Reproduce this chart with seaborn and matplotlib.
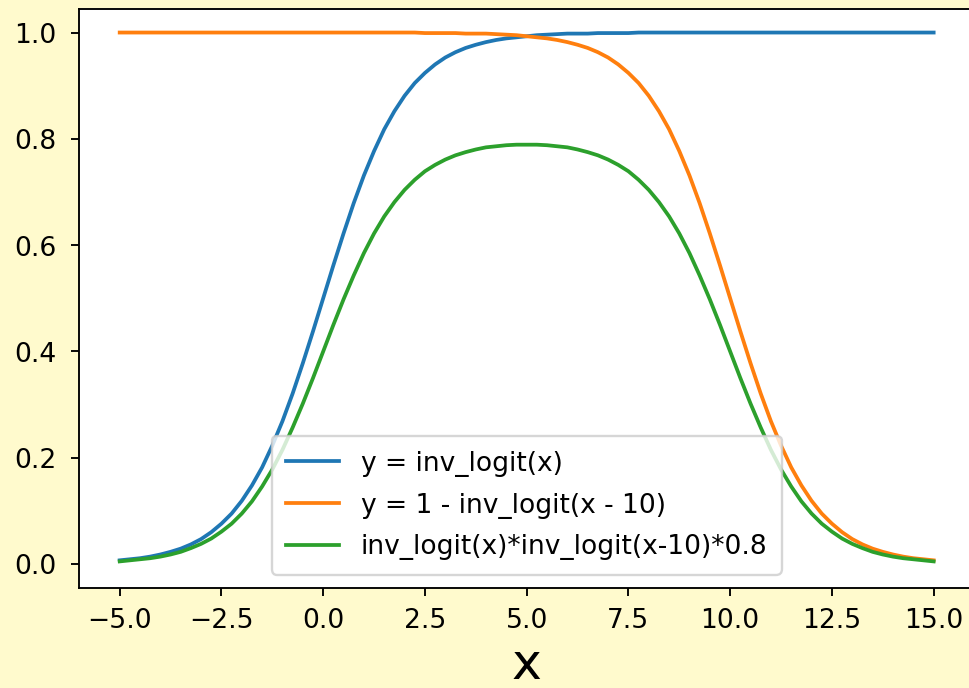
import matplotlib
matplotlib.use("Agg")
import matplotlib.pyplot as plt
import seaborn as sns
import pandas as pd

# x grid (step 0.25) and curve values
x_vals = [-5.00, -4.75, -4.50, -4.25, -4.00, -3.75, -3.50, -3.25, -3.00, -2.75,
          -2.50, -2.25, -2.00, -1.75, -1.50, -1.25, -1.00, -0.75, -0.50, -0.25,
          0.00, 0.25, 0.50, 0.75, 1.00, 1.25, 1.50, 1.75, 2.00, 2.25,
          2.50, 2.75, 3.00, 3.25, 3.50, 3.75, 4.00, 4.25, 4.50, 4.75,
          5.00, 5.25, 5.50, 5.75, 6.00, 6.25, 6.50, 6.75, 7.00, 7.25,
          7.50, 7.75, 8.00, 8.25, 8.50, 8.75, 9.00, 9.25, 9.50, 9.75,
          10.00, 10.25, 10.50, 10.75, 11.00, 11.25, 11.50, 11.75, 12.00, 12.25,
          12.50, 12.75, 13.00, 13.25, 13.50, 13.75, 14.00, 14.25, 14.50, 14.75,
          15.00]

inv_logit_x = [0.007, 0.009, 0.011, 0.014, 0.018, 0.023, 0.029, 0.037, 0.047, 0.060,
               0.076, 0.095, 0.119, 0.148, 0.182, 0.223, 0.269, 0.321, 0.378, 0.438,
               0.500, 0.562, 0.622, 0.679, 0.731, 0.777, 0.818, 0.852, 0.881, 0.905,
               0.924, 0.940, 0.953, 0.963, 0.971, 0.977, 0.982, 0.986, 0.989, 0.991,
               0.993, 0.995, 0.996, 0.997, 0.998, 0.998, 0.998, 0.999, 0.999, 0.999,
               0.999, 1.000, 1.000, 1.000, 1.000, 1.000, 1.000, 1.000, 1.000, 1.000,
               1.000, 1.000, 1.000, 1.000, 1.000, 1.000, 1.000, 1.000, 1.000, 1.000,
               1.000, 1.000, 1.000, 1.000, 1.000, 1.000, 1.000, 1.000, 1.000, 1.000,
               1.000]

one_minus_shifted = [1.000, 1.000, 1.000, 1.000, 1.000, 1.000, 1.000, 1.000, 1.000, 1.000,
                     1.000, 1.000, 1.000, 1.000, 1.000, 1.000, 1.000, 1.000, 1.000, 1.000,
                     1.000, 1.000, 1.000, 1.000, 1.000, 1.000, 1.000, 1.000, 1.000, 1.000,
                     0.999, 0.999, 0.999, 0.999, 0.998, 0.998, 0.998, 0.997, 0.996, 0.995,
                     0.993, 0.991, 0.989, 0.986, 0.982, 0.977, 0.971, 0.963, 0.953, 0.940,
                     0.924, 0.905, 0.881, 0.852, 0.818, 0.777, 0.731, 0.679, 0.622, 0.562,
                     0.500, 0.438, 0.378, 0.321, 0.269, 0.223, 0.182, 0.148, 0.119, 0.095,
                     0.076, 0.060, 0.047, 0.037, 0.029, 0.023, 0.018, 0.014, 0.011, 0.009,
                     0.007]

bump = [0.005, 0.007, 0.009, 0.011, 0.014, 0.018, 0.023, 0.030, 0.038, 0.048,
        0.061, 0.076, 0.095, 0.118, 0.146, 0.178, 0.215, 0.257, 0.302, 0.350,
        0.400, 0.450, 0.498, 0.543, 0.585, 0.622, 0.654, 0.681, 0.704, 0.723,
        0.739, 0.751, 0.761, 0.769, 0.775, 0.780, 0.784, 0.786, 0.788, 0.789,
        0.789, 0.789, 0.788, 0.786, 0.784, 0.780, 0.775, 0.769, 0.761, 0.751,
        0.739, 0.723, 0.704, 0.681, 0.654, 0.622, 0.585, 0.543, 0.498, 0.450,
        0.400, 0.350, 0.302, 0.257, 0.215, 0.178, 0.146, 0.118, 0.095, 0.076,
        0.061, 0.048, 0.038, 0.030, 0.023, 0.018, 0.014, 0.011, 0.009, 0.007,
        0.005]

series_labels = ["y = inv_logit(x)",
                 "y = 1 - inv_logit(x - 10)",
                 "inv_logit(x)*inv_logit(x-10)*0.8"]

df = pd.DataFrame({
    "x": x_vals * 3,
    "y": inv_logit_x + one_minus_shifted + bump,
    "curve": [series_labels[0]] * len(x_vals)
             + [series_labels[1]] * len(x_vals)
             + [series_labels[2]] * len(x_vals),
})

plt.rcParams["font.size"] = 11.3

DPI = 72 * 2.35
fig = plt.figure(figsize=(969.4 / DPI, 688.4 / DPI), dpi=DPI, facecolor="#fffacd")
ax = fig.add_axes([0.0815, 0.1453, 0.9236, 0.8416])
ax.set_facecolor("white")

palette = sns.color_palette("tab10", 3)
sns.lineplot(data=df, x="x", y="y", hue="curve", hue_order=series_labels,
             palette=palette, linewidth=1.6, ax=ax, sort=False)

ax.set_xlim(-6, 16)
ax.set_ylim(-0.045, 1.045)
ax.set_xticks([-5.0, -2.5, 0.0, 2.5, 5.0, 7.5, 10.0, 12.5, 15.0])
ax.set_yticks([0.0, 0.2, 0.4, 0.6, 0.8, 1.0])
ax.tick_params(axis="x", pad=5)
ax.tick_params(axis="y", pad=6)
ax.set_xlabel("x", fontsize=21.5, labelpad=3)
ax.set_ylabel("")

ax.legend(loc="lower center", title=None, borderpad=0.55, labelspacing=0.6)

fig.savefig("out.png", dpi=DPI, facecolor=fig.get_facecolor())
